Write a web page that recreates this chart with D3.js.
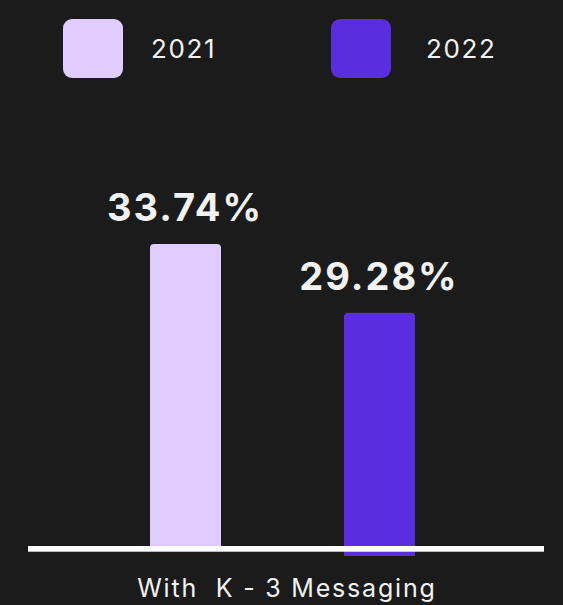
<!DOCTYPE html>
<html>
<head>
<meta charset="utf-8">
<script src="https://cdn.jsdelivr.net/npm/d3@7"></script>
<style>
  html, body { margin: 0; padding: 0; background: #1b1b1b; }
  svg { display: block; }
</style>
</head>
<body>
<script>
// ---- data ----
const category = "With  K - 3 Messaging";
const years = ["2021", "2022"];
const values = [33.74, 29.28];
const valueLabels = ["33.74%", "29.28%"];
const colors = ["#e1ccff", "#5b2de0"];

const W = 563, H = 605;
const font = "Inter, 'Noto Sans', sans-serif";
const textColor = "#f2f2f2";

const svg = d3.select("body").append("svg")
  .attr("width", W).attr("height", H);

svg.append("rect").attr("width", W).attr("height", H).attr("fill", "#1b1b1b");

// scales
const x = d3.scaleBand().domain(years).range([24.5, 540.5])
  .paddingInner(0.634).paddingOuter(0.647);
const y = d3.scaleLinear().domain([14, 36]).range([548, 209.2]);
const color = d3.scaleOrdinal().domain(years).range(colors);

// legend
const legendX = d3.scalePoint().domain(years).range([63, 331]);
const legendTextX = d3.scalePoint().domain(years).range([151, 426]);
const lg = svg.append("g");
lg.selectAll("rect").data(years).join("rect")
  .attr("x", d => legendX(d)).attr("y", 19)
  .attr("width", 60).attr("height", 59).attr("rx", 9)
  .attr("fill", d => color(d));
lg.selectAll("text").data(years).join("text")
  .attr("x", d => legendTextX(d)).attr("y", 57.5)
  .attr("font-family", font).attr("font-size", 26).attr("fill", textColor)
  .attr("letter-spacing", 1.6)
  .text(d => d);

// bars with rounded top corners
const overhang = [0, 8];
function topRounded(x0, y0, w, h, r) {
  return `M${x0},${y0 + h} V${y0 + r} Q${x0},${y0} ${x0 + r},${y0} H${x0 + w - r} Q${x0 + w},${y0} ${x0 + w},${y0 + r} V${y0 + h} Z`;
}
const data = years.map((yr, i) => ({ year: yr, value: values[i], label: valueLabels[i], i }));

svg.append("g").selectAll("path").data(data).join("path")
  .attr("d", d => {
    const top = y(d.value);
    const bottom = y(14) + overhang[d.i];
    return topRounded(x(d.year), top, x.bandwidth(), bottom - top, 4);
  })
  .attr("fill", d => color(d.year));

// value labels
svg.append("g").selectAll("text").data(data).join("text")
  .attr("x", d => x(d.year) + x.bandwidth() / 2 - 1.5 + 1)
  .attr("y", d => y(d.value) - 23)
  .attr("text-anchor", "middle")
  .attr("font-family", font).attr("font-weight", 700).attr("font-size", 38)
  .attr("letter-spacing", 2)
  .attr("fill", textColor)
  .text(d => d.label);

// baseline
svg.append("rect").attr("x", 28).attr("y", 546).attr("width", 516).attr("height", 5.7)
  .attr("fill", "#ffffff");

// category label
svg.append("text").attr("x", 286 + 0.9).attr("y", 597.3)
  .attr("text-anchor", "middle")
  .attr("font-family", font).attr("font-size", 25).attr("fill", textColor)
  .attr("letter-spacing", 1.8)
  .attr("xml:space", "preserve").style("white-space", "pre")
  .text(category);
</script>
</body>
</html>
